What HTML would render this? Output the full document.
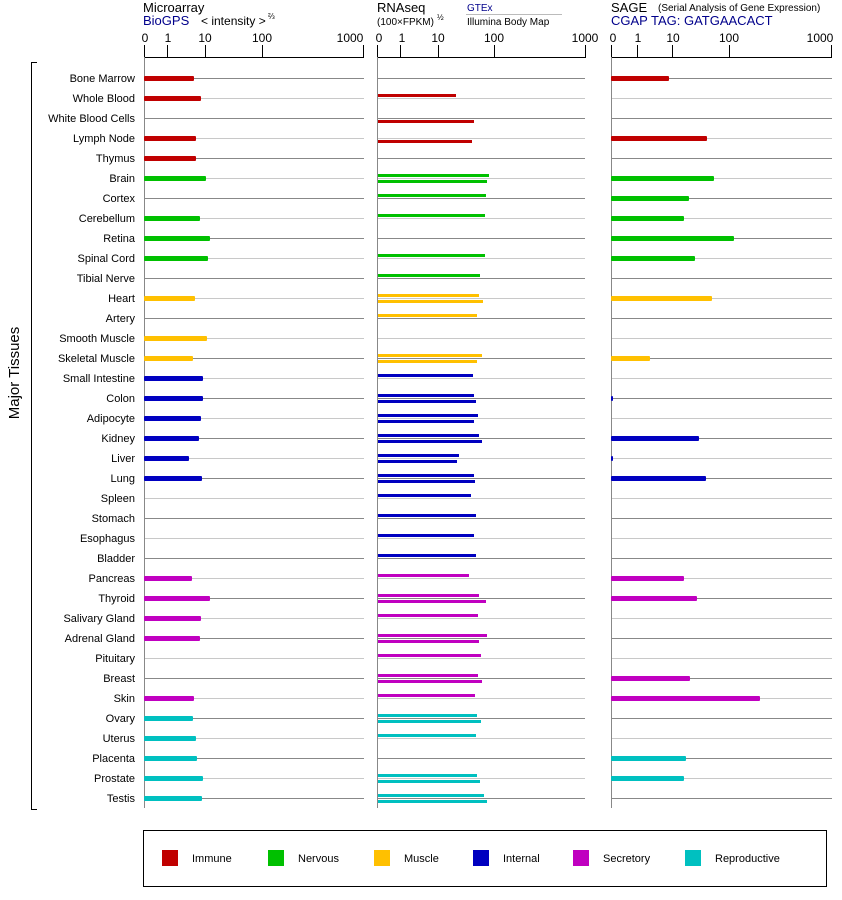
<!DOCTYPE html><html><head><style>body{margin:0;background:#fff}svg{display:block;font-family:"Liberation Sans",Arial,sans-serif}</style></head><body>
<svg width="842" height="900" viewBox="0 0 842 900" xmlns="http://www.w3.org/2000/svg">
<g font-size="13" fill="#000">
<text x="143" y="12">Microarray</text>
<text x="143" y="25" fill="#00008b">BioGPS</text>
<text x="201" y="25" font-size="12">&lt; intensity &gt;</text><text x="268" y="19" font-size="8">⅔</text>
<text x="377" y="12">RNAseq</text>
<text x="377" y="25" font-size="10">(100×FPKM)</text><text x="437" y="20" font-size="8">½</text>
<text x="467" y="11" font-size="10" fill="#00008b">GTEx</text>
<line x1="466" y1="14.5" x2="562" y2="14.5" stroke="#bbb"/>
<text x="467" y="25" font-size="10">Illumina Body Map</text>
<text x="611" y="12">SAGE</text><text x="658" y="11" font-size="10">(Serial Analysis of Gene Expression)</text>
<text x="611" y="25" fill="#00008b">CGAP  TAG: GATGAACACT</text>
</g>
<g font-size="12" text-anchor="middle">
<text x="145" y="42">0</text><text x="168" y="42">1</text><text x="205" y="42">10</text><text x="262" y="42">100</text><text x="350" y="42">1000</text>
<text x="379" y="42">0</text><text x="402" y="42">1</text><text x="438" y="42">10</text><text x="494" y="42">100</text><text x="585" y="42">1000</text>
<text x="613" y="42">0</text><text x="638" y="42">1</text><text x="673" y="42">10</text><text x="729" y="42">100</text><text x="820" y="42">1000</text>
</g>
<g stroke="#000" stroke-width="1" fill="none">
<path d="M144.5 45V57.5H363.5V45M167.5 45V57M205.5 45V57M262.5 45V57"/>
<path d="M377.5 45V57.5H585.5V45M400.5 45V57M438.5 45V57M494.5 45V57"/>
<path d="M611.5 45V57.5H831.5V45M637.5 45V57M672.5 45V57M729.5 45V57"/>
<path d="M37 62.5H31.5V809.5H37"/>
</g>
<g stroke="#888" stroke-width="1">
<line x1="144.5" y1="57" x2="144.5" y2="808"/><line x1="377.5" y1="57" x2="377.5" y2="808"/><line x1="611.5" y1="57" x2="611.5" y2="808"/>
</g>
<text transform="translate(19,373) rotate(-90)" text-anchor="middle" font-size="15">Major Tissues</text>
<g id="rows"></g>
<rect x="143.5" y="830.5" width="683" height="56" fill="none" stroke="#000"/>
<g font-size="11">
<rect x="162" y="850" width="16" height="16" fill="#c00000"/><text x="192" y="862">Immune</text>
<rect x="268" y="850" width="16" height="16" fill="#00c000"/><text x="298" y="862">Nervous</text>
<rect x="374" y="850" width="16" height="16" fill="#ffc000"/><text x="404" y="862">Muscle</text>
<rect x="473" y="850" width="16" height="16" fill="#0000c0"/><text x="503" y="862">Internal</text>
<rect x="573" y="850" width="16" height="16" fill="#c000c0"/><text x="603" y="862">Secretory</text>
<rect x="685" y="850" width="16" height="16" fill="#00c0c0"/><text x="715" y="862">Reproductive</text>
</g>
</svg>
<script>
var C={I:"#c00000",N:"#00c000",M:"#ffc000",T:"#0000c0",S:"#c000c0",R:"#00c0c0"};
var D=[
["Bone Marrow","I",194,0,0,669],["Whole Blood","I",201,456,0,0],["White Blood Cells","I",0,0,474,0],["Lymph Node","I",196,0,472,707],["Thymus","I",196,0,0,0],
["Brain","N",206,489,487,714],["Cortex","N",0,486,0,689],["Cerebellum","N",200,485,0,684],["Retina","N",210,0,0,734],["Spinal Cord","N",208,485,0,695],["Tibial Nerve","N",0,480,0,0],
["Heart","M",195,479,483,712],["Artery","M",0,477,0,0],["Smooth Muscle","M",207,0,0,0],["Skeletal Muscle","M",193,482,477,650],
["Small Intestine","T",203,473,0,0],["Colon","T",203,474,476,613],["Adipocyte","T",201,478,474,0],["Kidney","T",199,479,482,699],["Liver","T",189,459,457,613],["Lung","T",202,474,475,706],["Spleen","T",0,471,0,0],["Stomach","T",0,476,0,0],["Esophagus","T",0,474,0,0],["Bladder","T",0,476,0,0],
["Pancreas","S",192,469,0,684],["Thyroid","S",210,479,486,697],["Salivary Gland","S",201,478,0,0],["Adrenal Gland","S",200,487,479,0],["Pituitary","S",0,481,0,0],["Breast","S",0,478,482,690],["Skin","S",194,475,0,760],
["Ovary","R",193,477,481,0],["Uterus","R",196,476,0,0],["Placenta","R",197,0,0,686],["Prostate","R",203,477,480,684],["Testis","R",202,484,487,0]];
var s="";
D.forEach(function(d,i){var y=78+i*20,c=C[d[1]],lc=i%2?"#c8c8c8":"#888";
s+='<text x="135" y="'+(y+4)+'" text-anchor="end" font-size="11">'+d[0]+'</text>';
s+='<line x1="145" y1="'+(y+.5)+'" x2="364" y2="'+(y+.5)+'" stroke="'+lc+'"/>';
s+='<line x1="378" y1="'+(y+.5)+'" x2="585" y2="'+(y+.5)+'" stroke="'+lc+'"/>';
s+='<line x1="612" y1="'+(y+.5)+'" x2="832" y2="'+(y+.5)+'" stroke="'+lc+'"/>';
if(d[2])s+='<rect x="144" y="'+(y-2)+'" width="'+(d[2]-144)+'" height="5" rx="1" fill="'+c+'"/>';
if(d[3])s+='<rect x="378" y="'+(y-4)+'" width="'+(d[3]-378)+'" height="3" fill="'+c+'"/>';
if(d[4])s+='<rect x="378" y="'+(y+2)+'" width="'+(d[4]-378)+'" height="3" fill="'+c+'"/>';
if(d[5])s+='<rect x="611" y="'+(y-2)+'" width="'+(d[5]-611)+'" height="5" rx="1" fill="'+c+'"/>';
});
document.getElementById("rows").innerHTML=s;
</script>
</body></html>
